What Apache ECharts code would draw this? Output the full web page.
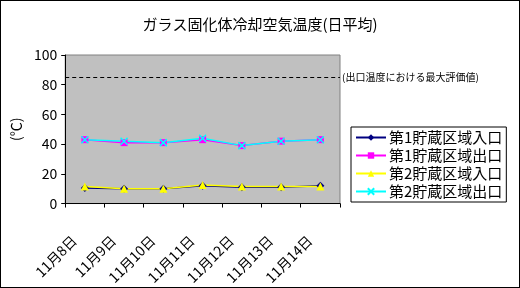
<!DOCTYPE html>
<html>
<head>
<meta charset="utf-8">
<script src="https://cdn.jsdelivr.net/npm/echarts@6/dist/echarts.min.js"></script>
<style>
  html, body { margin: 0; padding: 0; background: #fff; }
  #chart { width: 520px; height: 288px; box-sizing: border-box; border: 1px solid #000; }
</style>
</head>
<body>
<div id="chart"></div>
<script>
// 日付
var days = ['11月8日', '11月9日', '11月10日', '11月11日', '11月12日', '11月13日', '11月14日'];
// 日平均温度 (℃)
var inlet1 = [10.5, 10, 10, 12, 11, 11, 12];
var outlet1 = [43, 41, 41, 43, 39, 42, 43];
var inlet2 = [11.5, 10, 10, 12.5, 11.5, 11.5, 11.5];
var outlet2 = [43, 42, 41, 44, 39, 42, 43];
var maxEval = 85;

var font = '"Noto Sans CJK JP", sans-serif';

var chart = echarts.init(document.getElementById('chart'));

function line(name, data, color, symbol, size) {
    return {
        name: name,
        type: 'line',
        data: data,
        symbol: symbol,
        symbolSize: size,
        showAllSymbol: true,
        lineStyle: { color: color, width: 1.5 },
        itemStyle: { color: color },
        animation: false
    };
}

var series = [
    line('第1貯蔵区域入口', inlet1, '#000080', 'diamond', 8),
    line('第1貯蔵区域出口', outlet1, '#ff00ff', 'rect', 7),
    line('第2貯蔵区域入口', inlet2, '#ffff00', 'triangle', 8),
    line('第2貯蔵区域出口', outlet2, '#00ffff', 'path://M0,0L10,10M10,0L0,10', 7)
];
series[3].itemStyle.borderColor = '#00ffff';
series[3].itemStyle.borderWidth = 1.5;

series[0].markLine = {
    silent: true,
    symbol: 'none',
    animation: false,
    lineStyle: { color: '#000', type: [4, 3], width: 1 },
    label: {
        position: 'end',
        distance: 2,
        formatter: '(出口温度における最大評価値)',
        fontFamily: font,
        fontSize: 10,
        color: '#000'
    },
    data: [{ yAxis: maxEval }]
};

chart.setOption({
    backgroundColor: '#fff',
    title: {
        text: 'ガラス固化体冷却空気温度(日平均)',
        left: 'center',
        top: 11,
        textStyle: { fontFamily: font, fontSize: 15, fontWeight: 'normal', color: '#000' }
    },
    grid: {
        left: 58, top: 54, width: 281, height: 149,
        show: true,
        backgroundColor: '#c0c0c0',
        borderColor: '#808080',
        borderWidth: 1
    },
    legend: {
        orient: 'vertical',
        left: 350,
        top: 126,
        padding: [3, 4, 3, 4],
        itemGap: 3,
        itemWidth: 30,
        itemHeight: 8,
        backgroundColor: '#fff',
        borderColor: '#000',
        borderWidth: 1,
        borderRadius: 0,
        textStyle: { fontFamily: font, fontSize: 15, color: '#000', padding: [0, 0, 0, -2] }
    },
    xAxis: {
        type: 'category',
        data: days,
        boundaryGap: true,
        axisLine: { lineStyle: { color: '#000' } },
        axisTick: { show: true, inside: false, length: 4, interval: 0, lineStyle: { color: '#000' } },
        axisLabel: {
            interval: 0,
            rotate: 45,
            margin: 24,
            padding: [0, 15, 0, 0],
            fontFamily: font,
            fontSize: 14,
            color: '#000'
        }
    },
    yAxis: {
        type: 'value',
        min: 0,
        max: 100,
        interval: 20,
        name: '(℃)',
        nameLocation: 'middle',
        nameGap: 40,
        nameTextStyle: { fontFamily: font, fontSize: 14, color: '#000' },
        axisLine: { show: true, lineStyle: { color: '#000' } },
        axisTick: { show: true, inside: false, length: 4, lineStyle: { color: '#000' } },
        splitLine: { show: false },
        axisLabel: { fontFamily: font, fontSize: 14, color: '#000', margin: 8 }
    },
    series: series
});
</script>
</body>
</html>
